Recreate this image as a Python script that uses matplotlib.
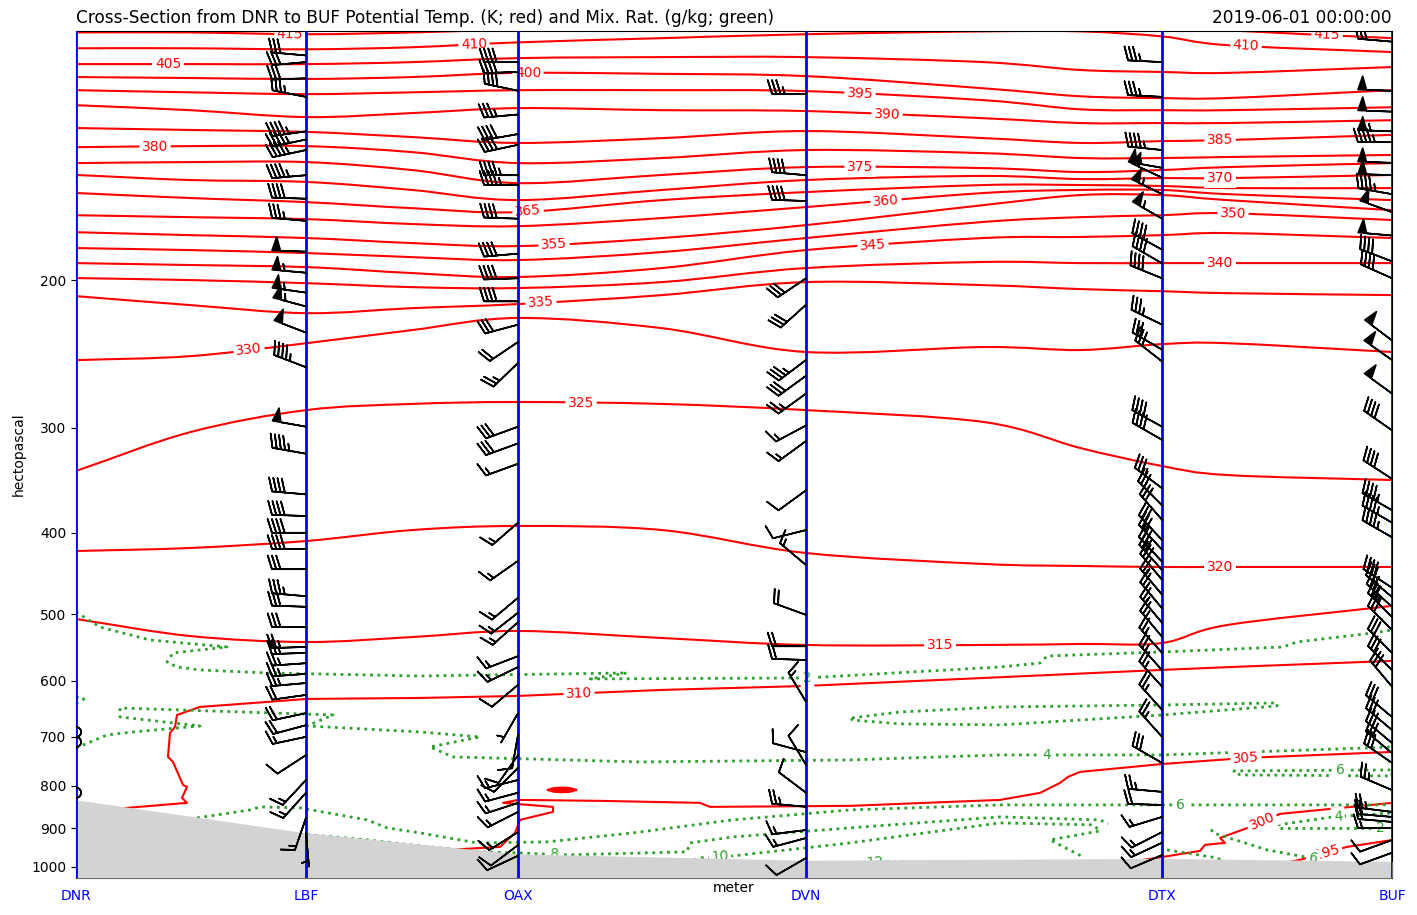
import numpy as np
import matplotlib
matplotlib.use("Agg")
import matplotlib.pyplot as plt
import matplotlib.transforms as mtransforms
from matplotlib.path import Path
from matplotlib.patches import PathPatch
from matplotlib.ticker import FixedLocator, FixedFormatter, NullLocator

# ---------------- stations / terrain ----------------
STATIONS = ["DNR", "LBF", "OAX", "DVN", "DTX", "BUF"]
STATION_KM = [0.0, 386.6, 743.0, 1227.1, 1825.5, 2212.0]
SURFACE_P = [832, 911, 965, 982, 977, 985]

# ---------------- potential temperature (K) ----------------
NODE_KM = [0, 192, 387, 565, 743, 985, 1227, 1526, 1688, 1825, 1935, 2212]
P_415 = [101.4, 101.4, 101.9, 101.4, 100.5, 99.4, 98.1, 98.1, 98.1, 99.4, 100.8, 103.0]
P_410 = [105.9, 105.9, 106.2, 105.6, 104.2, 103.0, 101.9, 101.1, 101.1, 102.5, 105.0, 107.0]
P_405 = [110.6, 110.6, 110.6, 110.0, 108.8, 108.5, 108.5, 110.0, 112.4, 113.0, 113.3, 111.5]
P_400 = [114.6, 114.9, 115.2, 114.6, 113.3, 113.6, 114.3, 118.2, 120.8, 121.4, 121.4, 118.8]
P_395 = [118.8, 119.5, 120.1, 119.5, 118.8, 118.8, 119.1, 122.1, 125.2, 125.5, 125.5, 124.5]
P_390 = [123.8, 125.5, 127.9, 126.5, 124.8, 125.5, 125.8, 128.3, 130.0, 130.0, 130.0, 129.0]
P_385 = [131.8, 132.5, 133.2, 135.1, 137.3, 135.5, 132.9, 135.5, 137.3, 136.6, 136.2, 134.3]
P_380 = [138.9, 138.5, 138.5, 140.8, 145.1, 143.1, 140.0, 141.2, 143.1, 143.1, 142.7, 141.9]
P_375 = [145.1, 144.7, 144.7, 147.9, 153.3, 149.9, 146.7, 147.1, 148.7, 147.9, 146.7, 145.1]
P_370 = [149.9, 152.0, 152.8, 156.2, 160.6, 156.2, 152.0, 150.3, 151.6, 151.2, 151.2, 149.9]
P_365 = [157.5, 159.7, 161.5, 164.2, 166.0, 160.6, 157.1, 154.1, 154.1, 154.5, 155.4, 155.4]
P_360 = [167.4, 168.3, 169.2, 171.5, 172.5, 168.7, 163.7, 157.5, 156.2, 156.2, 158.0, 160.6]
P_355 = [175.4, 176.8, 178.2, 180.7, 182.2, 178.2, 172.0, 162.8, 158.4, 158.4, 160.6, 165.1]
P_350 = [183.2, 184.2, 185.7, 187.8, 189.3, 185.2, 178.2, 170.5, 168.3, 167.4, 166.5, 169.6]
P_345 = [190.9, 191.9, 193.0, 196.2, 198.3, 193.5, 184.2, 178.2, 177.7, 176.8, 175.8, 178.2]
P_340 = [198.9, 200.0, 201.7, 203.9, 204.4, 201.1, 193.5, 190.3, 190.9, 190.9, 190.9, 190.9]
P_335 = [209.0, 214.2, 219.0, 216.0, 213.6, 208.4, 201.1, 202.8, 205.0, 206.2, 207.3, 208.4]
P_330 = [249.1, 246.4, 237.8, 229.4, 221.9, 228.2, 243.6, 240.3, 242.3, 238.4, 237.8, 243.6]
P_325 = [337.6, 303.5, 285.7, 280.9, 279.4, 280.9, 285.7, 295.2, 317.0, 333.0, 341.4, 346.1]
P_320 = [420.5, 417.0, 409.1, 397.0, 392.6, 397.0, 422.8, 435.7, 438.1, 439.3, 439.3, 439.3]
P_315 = [506.7, 530.9, 539.7, 532.4, 523.6, 533.8, 544.1, 544.1, 542.6, 541.2, 515.1, 488.8]

X_310 = [0, 85.7, 186.6, 178.2, 186.6, 179.9, 163.0, 154.6, 158.0, 166.4, 169.8, 208.4, 388.3,
         578.2, 743.0, 985.0, 1227.1, 1526.3, 1825.5, 1944.8, 2212.1]
P_310 = [860.0, 850.6, 839.0, 827.6, 803.0, 798.7, 749.8, 739.6, 692.5, 681.2, 659.2, 644.9, 630.9,
         629.2, 625.7, 615.5, 608.8, 595.6, 582.6, 577.9, 568.4]
X_305 = [2212.1, 1968.3, 1827.1, 1687.6, 1667.4, 1654.0, 1620.4, 1553.2, 1301.0, 1065.7, 1048.9,
         880.8, 743.0, 717.8, 801.8, 801.8, 746.3, 737.9, 712.7, 623.6, 544.6]
P_305 = [729.6, 741.6, 754.0, 770.7, 781.3, 794.3, 816.3, 832.2, 845.9, 848.3, 839.0,
         834.4, 832.2, 839.0, 848.3, 860.0, 879.1, 911.0, 946.7, 954.5, 967.6]
X_305B = [791.7, 804.3, 816.9, 829.5, 842.1, 829.5, 816.9, 804.3, 791.7]
P_305B = [809.7, 805.4, 804.6, 805.4, 809.7, 814.1, 814.9, 814.1, 809.7]
X_300 = [1771.7, 1827.1, 1889.3, 1897.8, 1931.4, 1923.0, 1965.0, 2023.8, 2212.1]
P_300 = [986.4, 973.0, 957.1, 941.5, 936.3, 923.6, 901.0, 864.7, 839.0]
X_295 = [2040.6, 2057.4, 2136.4, 2213.8]
P_295 = [986.4, 981.0, 946.7, 928.7]

# label x-positions (km) for isentropes
THETA_LABEL_KM = {415: [359.7, 2102.8], 410: [669.0, 1966.7], 405: [154.6], 400: [759.8],
                  395: [1317.8], 390: [1363.2], 385: [1923.0], 380: [132.8], 375: [1317.8],
                  370: [1923.0], 365: [759.8], 360: [1361.5], 355: [803.5], 350: [1944.8],
                  345: [1339.7], 340: [1923.0], 335: [781.6], 330: [290.8], 325: [848.9],
                  320: [1923.0], 315: [1452.3], 310: [845.5], 305: [1966.7], 300: [1993.6],
                  295: [2102.8]}

# ---------------- mixing ratio (g/kg) ----------------
G2_X = [0, 40.3, 124.4, 253.8, 208.4, 163.0, 153.0, 169.8, 208.4, 321.1, 578.2, 926.2, 864.0,
        1227.1, 1553.2, 1620.4, 1632.2, 1827.1, 2028.9, 2052.4, 2180.1, 2212.0]
G2_P = [497.0, 518.0, 536.7, 547.1, 551.6, 556.2, 570.1, 578.0, 582.7, 587.5, 592.4, 587.5, 597.2,
        595.6, 578.0, 571.7, 560.8, 554.6, 547.1, 539.6, 526.5, 522.2]
G2B_X = [0, 13.4, 3.4]
G2B_P = [627.5, 630.9, 637.9]
G2C_X = [2023.8, 2112.9, 2213.8]
G2C_P = [898.6, 898.6, 898.6]
G4_X = [0, 52.1, 95.8, 208.4, 74.0, 74.0, 432.0, 388.3, 578.2, 679.1, 595.0, 633.7, 948.0,
        1301.0, 1553.2, 1827.1, 2170.0, 2212.0]
G4_P = [721.7, 696.4, 690.7, 679.4, 662.9, 646.8, 659.2, 679.4, 690.7, 700.2, 719.7, 739.6, 749.9,
        745.8, 735.6, 735.6, 721.7, 719.7]
G4B_X = [1304.4, 1385.1, 1553.2, 1827.1, 2018.8, 2018.8, 1827.1, 1553.2, 1385.1, 1304.4, 1304.4]
G4B_P = [664.6, 653.9, 645.0, 641.4, 637.9, 643.2, 659.2, 677.5, 675.6, 668.3, 664.6]
G4C_X = [1995.2, 2112.9, 2213.8]
G4C_P = [896.2, 872.0, 862.4]
G6_X = [191.6, 203.4, 292.5, 309.3, 376.5, 489.1, 522.8, 578.2, 674.0, 791.7, 936.3, 1104.4,
        1301.0, 1553.2, 1827.1, 2203.7]
G6_P = [879.1, 874.3, 855.4, 848.3, 850.6, 879.1, 898.6, 911.0, 936.4, 933.8, 911.0, 879.1,
        855.4, 843.7, 843.7, 843.7]
G6B_X = [2124.6, 2074.2, 2001.9, 1911.2, 1906.1]
G6B_P = [997.2, 975.6, 954.5, 911.0, 896.2]
G6C_X = [1944.8, 2212.0, 2212.0, 1956.6, 1944.8]
G6C_P = [768.6, 766.5, 779.3, 777.1, 768.6]
G8_X = [376.5, 489.1, 578.2, 679.1, 741.3, 825.3, 1027.0, 1032.1, 1104.4, 1301.0, 1553.2, 1721.2, 1734.6]
G8_P = [913.5, 928.7, 944.1, 959.7, 962.3, 967.6, 959.7, 936.4, 921.1, 898.6, 871.9, 879.1, 888.9]
G8B_X = [1833.9, 1917.9, 1948.2]
G8B_P = [954.5, 975.6, 1002.8]
G10_X = [1015.3, 1048.9, 1104.4, 1301.0, 1553.2, 1709.5, 1721.2, 1637.2, 1692.7]
G10_P = [994.5, 975.6, 970.3, 936.4, 886.4, 891.2, 906.1, 928.7, 973.0]
G12_X = [1250.6, 1343.1, 1469.1, 1553.2]
G12_P = [997.2, 986.4, 986.4, 991.8]

# ---------------- winds (knots, degrees) ----------------
DNR_P = [691, 710, 816]
DNR_SPD = [0, 0, 0]
DNR_DIR = [0, 0, 0]
LBF_P = [108, 110, 115, 121, 133, 136, 140, 150, 160, 170, 185, 196, 207, 215, 231, 254, 299, 322, 360, 382,
         400, 418, 442, 476, 490, 518, 547, 556, 572, 589, 604, 624, 656, 678, 700, 736, 788, 816, 874, 911]
LBF_SPD = [30, 30, 30, 35, 45, 45, 45, 45, 40, 35, 50, 55, 55, 55, 50, 45, 50, 45, 40, 40,
           40, 40, 30, 35, 30, 30, 25, 25, 25, 25, 25, 20, 20, 20, 15, 10, 15, 15, 15, 5]
LBF_DIR = [275, 265, 268, 281, 262, 258, 258, 265, 272, 275, 272, 275, 278, 285, 291, 291, 280, 280, 275, 272,
           270, 270, 270, 275, 272, 270, 268, 268, 266, 266, 265, 262, 258, 255, 258, 237, 223, 222, 199, 175]
OAX_P = [110, 113, 119, 127, 134, 138, 150, 154, 169, 186, 199, 212, 226, 237, 251, 299, 313, 331, 389, 432,
         478, 498, 511, 561, 578, 607, 656, 696, 736, 762, 788, 816, 839, 860, 909, 942, 970]
OAX_SPD = [40, 40, 40, 35, 40, 40, 45, 45, 40, 40, 40, 40, 30, 20, 25, 30, 30, 15, 15, 15,
           15, 15, 15, 15, 15, 10, 5, 10, 10, 10, 15, 15, 15, 15, 15, 10, 10]
OAX_DIR = [270, 268, 282, 265, 260, 258, 270, 270, 272, 265, 268, 270, 255, 236, 226, 250, 250, 250, 229, 235,
           230, 232, 228, 249, 244, 230, 210, 190, 215, 225, 256, 255, 252, 243, 238, 233, 245]
DVN_P = [120, 150, 161, 199, 214, 249, 260, 273, 298, 311, 356, 397, 437, 501, 546, 567, 636, 730, 756, 816,
         848, 904, 924, 976]
DVN_SPD = [35, 40, 40, 30, 30, 35, 30, 25, 15, 15, 10, 10, 15, 20, 20, 20, 15, 10, 10, 10, 25, 15, 15, 10]
DVN_DIR = [270, 275, 272, 236, 228, 233, 234, 234, 242, 234, 234, 256, 310, 290, 270, 272, 329, 285, 329, 307,
           275, 263, 255, 240]
DTX_P = [110, 121, 140, 147, 151, 158, 169, 184, 191, 199, 226, 242, 250, 299, 310, 354, 371, 386, 408, 419,
         433, 443, 455, 474, 492, 512, 532, 556, 583, 610, 650, 700, 752, 814, 844, 872, 909, 936, 968]
DTX_SPD = [35, 35, 45, 55, 50, 55, 55, 40, 40, 40, 35, 30, 30, 40, 40, 35, 30, 30, 30, 30,
           30, 30, 30, 25, 25, 25, 25, 25, 25, 25, 25, 25, 30, 25, 20, 15, 15, 15, 10]
DTX_DIR = [273, 273, 276, 280, 295, 296, 300, 299, 300, 292, 296, 300, 308, 299, 300, 307, 315, 319, 317, 317,
           317, 318, 320, 320, 320, 320, 320, 318, 318, 318, 318, 318, 300, 275, 272, 253, 243, 245, 247]
BUF_P = [104, 119, 126, 133, 137, 145, 150, 158, 166, 177, 190, 199, 236, 249, 273, 302, 345, 376, 389, 405,
         465, 477, 490, 504, 522, 556, 583, 610, 663, 687, 712, 732, 752, 810, 860, 872, 884, 899, 929, 962]
BUF_SPD = [30, 50, 50, 55, 45, 50, 50, 45, 50, 50, 40, 40, 50, 50, 50, 40, 40, 45, 45, 45,
           40, 35, 35, 35, 30, 30, 30, 30, 30, 30, 30, 30, 30, 25, 25, 20, 20, 15, 10, 10]
BUF_DIR = [275, 272, 272, 272, 270, 272, 272, 280, 290, 275, 291, 294, 307, 305, 306, 305, 303, 300, 300, 300,
           303, 310, 312, 315, 315, 315, 315, 320, 310, 310, 310, 310, 305, 293, 277, 275, 275, 270, 250, 250]

TITLE_LEFT = "Cross-Section from DNR to BUF Potential Temp. (K; red) and Mix. Rat. (g/kg; green)"
TITLE_RIGHT = "2019-06-01 00:00:00"
Y_TICKS = [200, 300, 400, 500, 600, 700, 800, 900, 1000]

# ---------------- figure ----------------
W, H = 1417, 915
fig = plt.figure(figsize=(W / 100, H / 100), dpi=100)
ax = fig.add_axes([76 / W, 1 - 878 / H, (1392 - 76) / W, (878 - 31) / H])
ax.set_yscale("log")
ax.set_xlim(0, STATION_KM[-1] * 1000)
ax.set_ylim(1031, 101)
ax.yaxis.set_major_locator(FixedLocator(Y_TICKS))
ax.yaxis.set_major_formatter(FixedFormatter([str(t) for t in Y_TICKS]))
ax.yaxis.set_minor_locator(NullLocator())
ax.set_xticks([])
ax.set_ylabel("hectopascal", fontsize=10)
ax.set_xlabel("meter", fontsize=10, labelpad=2)
ax.set_title(TITLE_LEFT, loc="left", fontsize=12.2)
ax.set_title(TITLE_RIGHT, loc="right", fontsize=12.2)

RED = "red"
GREEN = "#2ca02c"


def add_label(xs_km, ps, xl_km, text, color):
    xs = np.asarray(xs_km, float)
    ps = np.asarray(ps, float)
    for i in range(len(xs) - 1):
        a, b = xs[i], xs[i + 1]
        if a != b and min(a, b) <= xl_km <= max(a, b):
            t = (xl_km - a) / (b - a)
            pl = np.exp(np.log(ps[i]) + t * (np.log(ps[i + 1]) - np.log(ps[i])))
            d0 = ax.transData.transform((a * 1000, ps[i]))
            d1 = ax.transData.transform((b * 1000, ps[i + 1]))
            ang = np.degrees(np.arctan2(d1[1] - d0[1], d1[0] - d0[0]))
            if ang > 90:
                ang -= 180
            if ang < -90:
                ang += 180
            ax.text(xl_km * 1000, pl, text, color=color, fontsize=10, rotation=ang,
                    rotation_mode="anchor", ha="center", va="center", zorder=2.5,
                    clip_on=True,
                    bbox=dict(boxstyle="square,pad=0.18", fc="white", ec="none"))
            return


def smooth_curve(xs_km, ps, color, lw):
    """Draw a smooth (Catmull-Rom Bezier) path through the read points, in (x, log p) space."""
    x = np.asarray(xs_km, float) * 1000
    lp = np.log(np.asarray(ps, float))
    pts = np.column_stack([x, lp])
    n = len(pts)
    tang = np.zeros_like(pts)
    tang[0] = pts[1] - pts[0]
    tang[-1] = pts[-1] - pts[-2]
    tang[1:-1] = (pts[2:] - pts[:-2]) / 2.0
    verts = [pts[0]]
    codes = [Path.MOVETO]
    for i in range(n - 1):
        verts += [pts[i] + tang[i] / 3.0, pts[i + 1] - tang[i + 1] / 3.0, pts[i + 1]]
        codes += [Path.CURVE4] * 3
    verts = np.array(verts)
    verts[:, 1] = np.exp(verts[:, 1])
    ax.add_patch(PathPatch(Path(verts, codes), fill=False, edgecolor=color, lw=lw, zorder=2))


# isentropes on common nodes
theta_rows = {415: P_415, 410: P_410, 405: P_405, 400: P_400, 395: P_395, 390: P_390,
              385: P_385, 380: P_380, 375: P_375, 370: P_370, 365: P_365, 360: P_360,
              355: P_355, 350: P_350, 345: P_345, 340: P_340, 335: P_335, 330: P_330,
              325: P_325, 320: P_320, 315: P_315}
for th, row in theta_rows.items():
    smooth_curve(NODE_KM, row, RED, 1.5)
    for xl in THETA_LABEL_KM[th]:
        add_label(NODE_KM, row, xl, str(th), RED)

special = [(310, X_310, P_310), (305, X_305, P_305), (300, X_300, P_300), (295, X_295, P_295)]
for th, xs, ps in special:
    ax.plot(np.asarray(xs) * 1000, ps, color=RED, lw=1.5, zorder=2)
    for xl in THETA_LABEL_KM[th]:
        add_label(xs, ps, xl, str(th), RED)
ax.fill(np.asarray(X_305B) * 1000, P_305B, color=RED, lw=1.5, zorder=2)

# mixing ratio
green_lines = [(G2_X, G2_P, "2", 1228.8), (G2B_X, G2B_P, None, None), (G2C_X, G2C_P, "2", 2191.8),
               (G4_X, G4_P, "4", 1632.2), (G4B_X, G4B_P, None, None), (G4C_X, G4C_P, "4", 2121.2),
               (G6_X, G6_P, "6", 1855.7), (G6B_X, G6B_P, "6", 2079.3), (G6C_X, G6C_P, "6", 2124.6),
               (G8_X, G8_P, "8", 805.2), (G8B_X, G8B_P, None, None),
               (G10_X, G10_P, "10", 1082.5), (G12_X, G12_P, "12", 1343.1)]
for xs, ps, lab, xl in green_lines:
    ax.plot(np.asarray(xs) * 1000, ps, color=GREEN, lw=2, ls=":", zorder=2)
    if lab is not None:
        add_label(xs, ps, xl, lab, GREEN)

# terrain
sx = np.asarray(STATION_KM) * 1000
ax.fill_between(sx, SURFACE_P, 1031, color="lightgrey", zorder=3, lw=0)

# station lines and names
lab_tr = mtransforms.blended_transform_factory(ax.transData, ax.transAxes)
for name, x in zip(STATIONS, sx):
    ax.axvline(x, color="blue", lw=2, zorder=4)
    ax.text(x, -0.021, name, transform=lab_tr, ha="center", va="center",
            color="blue", fontsize=10, clip_on=False)

# wind barbs
winds = [(DNR_P, DNR_SPD, DNR_DIR), (LBF_P, LBF_SPD, LBF_DIR), (OAX_P, OAX_SPD, OAX_DIR),
         (DVN_P, DVN_SPD, DVN_DIR), (DTX_P, DTX_SPD, DTX_DIR), (BUF_P, BUF_SPD, BUF_DIR)]
for x, (ps, spd, dr) in zip(sx, winds):
    spd = np.asarray(spd, float)
    d = np.deg2rad(np.asarray(dr, float))
    u = -spd * np.sin(d)
    v = -spd * np.cos(d)
    ax.barbs(np.full(len(ps), x), ps, u, v, length=7, color="black", linewidth=1.2, zorder=5)

fig.savefig("out.png", dpi=100)
